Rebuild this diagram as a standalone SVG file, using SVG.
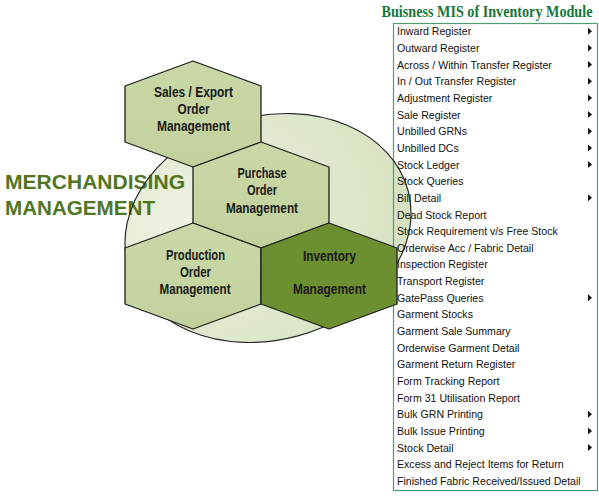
<svg xmlns="http://www.w3.org/2000/svg" xmlns:xlink="http://www.w3.org/1999/xlink" width="599" height="497" viewBox="0 0 599 497">
<defs>
<radialGradient id="cg" cx="0.25" cy="0.4" r="0.9">
<stop offset="0" stop-color="#eef3e3"/>
<stop offset="1" stop-color="#d3dfbb"/>
</radialGradient>
<linearGradient id="hg" x1="0" y1="0" x2="0" y2="1">
<stop offset="0" stop-color="#cad8a8"/>
<stop offset="1" stop-color="#c2d19c"/>
</linearGradient>
<path id="arr" d="M0,-3.5 L4,0 L0,3.5Z" fill="#111"/>
</defs>
<style>
.hex{fill:url(#hg);stroke:#1e1e1e;stroke-width:1.3;stroke-linejoin:round}
.hexd{fill:#6c8f2f;stroke:#1e1e1e;stroke-width:1.3;stroke-linejoin:round}
.hl{font-family:"Liberation Sans Narrow","Liberation Sans",Arial,sans-serif;font-weight:bold;font-size:14px;fill:#1a1a1a;text-anchor:middle}
.mt{font-family:"Liberation Sans",Arial,sans-serif;font-size:10.6px;fill:#111111}
.big{font-family:"Liberation Sans",Arial,sans-serif;font-weight:bold;font-size:21px;fill:#527522}
</style>
<rect x="0" y="0" width="599" height="497" fill="#ffffff"/>
<g id="menu-bg"><rect x="393.5" y="23.5" width="204" height="467" fill="#ffffff"/></g>
<g id="circle-fill"><ellipse cx="268" cy="228" rx="145" ry="112" transform="rotate(-15 268 228)" fill="url(#cg)"/></g>
<g id="menu-border"><rect x="393.5" y="23.5" width="204" height="467" fill="none" stroke="#4e9e74" stroke-width="1.2"/></g>
<g id="title"><text transform="translate(381.5 17) scale(0.834 1)" x="0" y="0" font-family="'Liberation Serif','Times New Roman',serif" font-weight="bold" font-size="17" fill="#16773a">Buisness MIS of Inventory Module</text></g>
<g id="merch-label">
<text class="big" x="5" y="189" textLength="180" lengthAdjust="spacingAndGlyphs">MERCHANDISING</text>
<text class="big" x="5" y="215" textLength="150" lengthAdjust="spacingAndGlyphs">MANAGEMENT</text>
</g>
<g id="circle-outline"><ellipse cx="268" cy="228" rx="145" ry="112" transform="rotate(-15 268 228)" fill="none" stroke="#2a2a2a" stroke-width="1.2"/></g>
<g id="node-sales">
<polygon class="hex" points="193,61 261,86 261,142 193,167 125,142 125,86"/>
<text class="hl" x="193.5" y="97" textLength="79" lengthAdjust="spacingAndGlyphs">Sales / Export</text>
<text class="hl" x="193.5" y="114" textLength="32" lengthAdjust="spacingAndGlyphs">Order</text>
<text class="hl" x="193.5" y="131" textLength="73" lengthAdjust="spacingAndGlyphs">Management</text>
</g>
<g id="node-purchase">
<polygon class="hex" points="261,142 329,167 329,223 261,248 193,223 193,167"/>
<text class="hl" x="262" y="178" textLength="49" lengthAdjust="spacingAndGlyphs">Purchase</text>
<text class="hl" x="262" y="195" textLength="30" lengthAdjust="spacingAndGlyphs">Order</text>
<text class="hl" x="262" y="213" textLength="72" lengthAdjust="spacingAndGlyphs">Management</text>
</g>
<g id="node-production">
<polygon class="hex" points="193,223 261,248 261,304 193,329 125,304 125,248"/>
<text class="hl" x="195.5" y="260" textLength="59" lengthAdjust="spacingAndGlyphs">Production</text>
<text class="hl" x="195.5" y="277" textLength="31" lengthAdjust="spacingAndGlyphs">Order</text>
<text class="hl" x="195" y="294" textLength="71" lengthAdjust="spacingAndGlyphs">Management</text>
</g>
<g id="node-inventory">
<polygon class="hexd" points="329,223 397,248 397,304 329,329 261,304 261,248"/>
<text class="hl" x="329.5" y="261" textLength="53" lengthAdjust="spacingAndGlyphs">Inventory</text>
<text class="hl" x="329.5" y="294" textLength="73" lengthAdjust="spacingAndGlyphs">Management</text>
</g>
<g id="menu-items">
<text class="mt" x="397" y="35.3">Inward Register</text>
<text class="mt" x="397" y="52">Outward Register</text>
<text class="mt" x="397" y="68.6">Across / Within Transfer Register</text>
<text class="mt" x="397" y="85.3">In / Out Transfer Register</text>
<text class="mt" x="397" y="101.9">Adjustment Register</text>
<text class="mt" x="397" y="118.6">Sale Register</text>
<text class="mt" x="397" y="135.2">Unbilled GRNs</text>
<text class="mt" x="397" y="151.9">Unbilled DCs</text>
<text class="mt" x="397" y="168.5">Stock Ledger</text>
<text class="mt" x="397" y="185.2">Stock Queries</text>
<text class="mt" x="397" y="201.8">Bill Detail</text>
<text class="mt" x="397" y="218.5">Dead Stock Report</text>
<text class="mt" x="397" y="235.1">Stock Requirement v/s Free Stock</text>
<text class="mt" x="397" y="251.8">Orderwise Acc / Fabric Detail</text>
<text class="mt" x="397" y="268.4">Inspection Register</text>
<text class="mt" x="397" y="285.1">Transport Register</text>
<text class="mt" x="397" y="301.7">GatePass Queries</text>
<text class="mt" x="397" y="318.4">Garment Stocks</text>
<text class="mt" x="397" y="335">Garment Sale Summary</text>
<text class="mt" x="397" y="351.7">Orderwise Garment Detail</text>
<text class="mt" x="397" y="368.3">Garment Return Register</text>
<text class="mt" x="397" y="385">Form Tracking Report</text>
<text class="mt" x="397" y="401.6">Form 31 Utilisation Report</text>
<text class="mt" x="397" y="418.3">Bulk GRN Printing</text>
<text class="mt" x="397" y="434.9">Bulk Issue Printing</text>
<text class="mt" x="397" y="451.6">Stock Detail</text>
<text class="mt" x="397" y="468.2">Excess and Reject Items for Return</text>
<text class="mt" x="397" y="484.9">Finished Fabric Received/Issued Detail</text>
</g>
<g id="menu-arrows">
<use xlink:href="#arr" x="588" y="31.3"/>
<use xlink:href="#arr" x="588" y="48"/>
<use xlink:href="#arr" x="588" y="64.6"/>
<use xlink:href="#arr" x="588" y="81.3"/>
<use xlink:href="#arr" x="588" y="97.9"/>
<use xlink:href="#arr" x="588" y="114.6"/>
<use xlink:href="#arr" x="588" y="131.2"/>
<use xlink:href="#arr" x="588" y="147.9"/>
<use xlink:href="#arr" x="588" y="164.5"/>
<use xlink:href="#arr" x="588" y="197.8"/>
<use xlink:href="#arr" x="588" y="297.7"/>
<use xlink:href="#arr" x="588" y="414.3"/>
<use xlink:href="#arr" x="588" y="430.9"/>
<use xlink:href="#arr" x="588" y="447.6"/>
</g>
</svg>
